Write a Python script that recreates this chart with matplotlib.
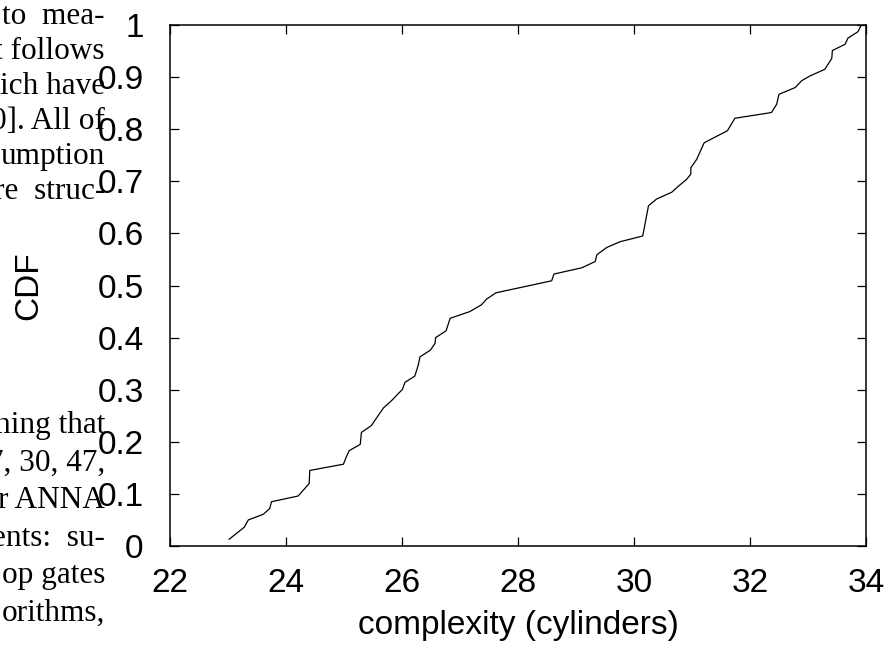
import matplotlib
matplotlib.use("Agg")
import matplotlib.pyplot as plt
from matplotlib.ticker import FixedLocator, FuncFormatter

# ---- data ----
complexity = [23.02, 23.28, 23.35, 23.61, 23.72, 23.75, 24.21, 24.40, 24.41, 24.99,
              25.04, 25.09, 25.28, 25.30, 25.47, 25.68, 25.82, 26.01, 26.05, 26.22,
              26.28, 26.31, 26.49, 26.57, 26.58, 26.76, 26.83, 27.17, 27.37, 27.46,
              27.62, 28.58, 28.62, 29.10, 29.33, 29.36, 29.53, 29.76, 30.15, 30.25,
              30.39, 30.65, 30.77, 30.91, 30.98, 30.98, 31.08, 31.21, 31.61, 31.74,
              32.37, 32.46, 32.50, 32.78, 32.89, 33.03, 33.29, 33.41, 33.42, 33.64,
              33.69, 33.86, 33.92]
cdf = [0.013, 0.036, 0.050, 0.061, 0.072, 0.085, 0.096, 0.120, 0.145, 0.157,
       0.171, 0.183, 0.195, 0.218, 0.231, 0.265, 0.279, 0.301, 0.314, 0.326,
       0.347, 0.363, 0.376, 0.389, 0.400, 0.413, 0.437, 0.450, 0.463, 0.474,
       0.486, 0.509, 0.522, 0.534, 0.546, 0.559, 0.573, 0.584, 0.595, 0.653,
       0.666, 0.679, 0.691, 0.704, 0.714, 0.726, 0.742, 0.774, 0.797, 0.821,
       0.832, 0.848, 0.867, 0.880, 0.893, 0.902, 0.915, 0.936, 0.951, 0.963,
       0.975, 0.987, 1.000]
x_ticks = [22, 24, 26, 28, 30, 32, 34]
y_ticks = [0, 0.1, 0.2, 0.3, 0.4, 0.5, 0.6, 0.7, 0.8, 0.9, 1.0]
x_label = "complexity (cylinders)"
y_label = "CDF"

# paper text fragments visible at the left edge of the crop
text_top = ["to  mea-", "t follows", "ich have", "0]. All of", "umption", "re  struc-"]
text_bottom = ["ning that", "7, 30, 47,", "r ANNA", "ents:  su-", "op gates", "orithms,"]

W, H = 892, 648
fig = plt.figure(figsize=(W / 100, H / 100), dpi=100)
plt.rcParams["font.family"] = ["Liberation Sans", "DejaVu Sans"]

serif = ["Liberation Serif", "DejaVu Serif"]
for i, s in enumerate(text_top):
    fig.text(105 / W, 1 - (24 + 35 * i) / H, s, ha="right", va="baseline",
             fontsize=22.5, family=serif, color="black")
for i, s in enumerate(text_bottom):
    fig.text(105 / W, 1 - (433 + 37.5 * i) / H, s, ha="right", va="baseline",
             fontsize=22.5, family=serif, color="black")

ax = fig.add_axes([170 / W, 1 - 546 / H, (866 - 170) / W, (546 - 25) / H])
ax.patch.set_alpha(0)
ax.plot(complexity, cdf, color="black", linewidth=0.9)

ax.set_xlim(22, 34)
ax.set_ylim(0, 1)
ax.xaxis.set_major_locator(FixedLocator(x_ticks))
ax.yaxis.set_major_locator(FixedLocator(y_ticks))
ax.yaxis.set_major_formatter(FuncFormatter(lambda v, p: "%g" % v))
ax.xaxis.set_major_formatter(FuncFormatter(lambda v, p: "%g" % v))

ax.tick_params(direction="in", length=6.5, width=0.9, labelsize=24,
               top=True, right=True, colors="black")
ax.tick_params(axis="x", pad=16)
ax.tick_params(axis="y", pad=19)
for sp in ax.spines.values():
    sp.set_linewidth(1.1)
    sp.set_color("black")

ax.set_xlabel(x_label, fontsize=24, labelpad=8)
ax.set_ylabel(y_label, fontsize=24)
ax.yaxis.set_label_coords((44 - 170) / (866 - 170), 0.5)

fig.savefig("out.png", dpi=100)
